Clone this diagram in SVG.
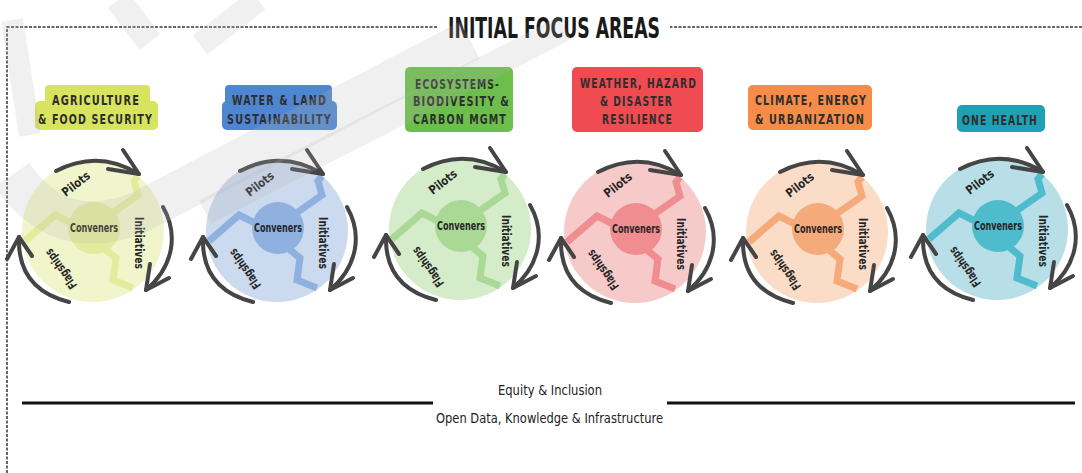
<svg xmlns="http://www.w3.org/2000/svg" xmlns:xlink="http://www.w3.org/1999/xlink" width="1082" height="473" viewBox="0 0 1082 473">
<style>
.frame{fill:none;stroke:#666;stroke-width:2;stroke-dasharray:3 1.5}
.title{font-family:"DejaVu Sans Condensed","DejaVu Sans","Liberation Sans",sans-serif;font-stretch:condensed;font-weight:bold;font-size:29px;fill:#1a1a1a}
.lbl{font-family:"DejaVu Sans Condensed","DejaVu Sans","Liberation Sans",sans-serif;font-stretch:condensed;font-weight:bold;font-size:14px;letter-spacing:1.5px;fill:#2e2e2e;text-anchor:middle}
.ct{font-family:"DejaVu Sans Condensed","DejaVu Sans","Liberation Sans",sans-serif;font-stretch:condensed;font-weight:bold;font-size:12px;fill:#262626;text-anchor:middle}
.bt{font-family:"DejaVu Sans Condensed","DejaVu Sans","Liberation Sans",sans-serif;font-stretch:condensed;font-size:14px;fill:#222;text-anchor:middle}
.arr{fill:none;stroke:#454545;stroke-width:4;stroke-linecap:round;stroke-linejoin:round}
.spk{fill:none;stroke:currentColor;stroke-width:7;stroke-linejoin:miter}
.wm{fill:none;stroke:#b5b5b5;stroke-opacity:0.2;stroke-linecap:butt}
.rule{stroke:#111;stroke-width:3}
</style>
<defs>
<g id="spokes">
<path class="spk" d="M18,-17 L45,-36 L41,-50 L45,-55"/>
<path class="spk" d="M-22,-8 L-38,-16 L-68,10"/>
<path class="spk" d="M12,18 L23,27 L20,49 L40,57"/>
</g>
<g id="arrows">
<path class="arr" d="M-37,-60 Q5,-82 46,-57"/>
<path class="arr" d="M15,-62 L46,-57 L30,-81"/>
<path class="arr" d="M70,-24 C86,4 80,36 53,59"/>
<path class="arr" d="M76,47 L53,59 L57,33"/>
<path class="arr" d="M-24,71 Q-76,58 -74,6"/>
<path class="arr" d="M-61,25 L-74,6 L-86,28"/>
</g>
</defs>
<rect width="1082" height="473" fill="#fff"/>

<g id="frame">
<path class="frame" d="M1082,27 L670,27"/>
<path class="frame" d="M437,27 L7,27 L7,473"/>
<text class="title" x="448" y="38" textLength="212" lengthAdjust="spacingAndGlyphs">INITIAL FOCUS AREAS</text>
</g>

<g id="node-agriculture">
<rect x="45" y="85" width="105" height="23" rx="4" fill="#d8e35e"/>
<rect x="35" y="101" width="123" height="29" rx="5" fill="#d8e35e"/>
<text class="lbl" x="96" y="105" textLength="88" lengthAdjust="spacingAndGlyphs">AGRICULTURE</text>
<text class="lbl" x="95.5" y="123.5" textLength="115" lengthAdjust="spacingAndGlyphs">&amp; FOOD SECURITY</text>
<g transform="translate(93,231)" style="color:#e3ec9c">
<circle r="71" fill="#f0f5cb"/>
<circle cx="1" cy="-3" r="26" fill="#e3ec9c"/>
<use href="#spokes"/>
<text class="ct" x="1" y="1" textLength="48" lengthAdjust="spacingAndGlyphs">Conveners</text>
<text class="ct" transform="translate(-17,-47) rotate(-38)" y="4" textLength="32" lengthAdjust="spacingAndGlyphs">Pilots</text>
<text class="ct" transform="translate(46,12) rotate(90)" y="4" textLength="52" lengthAdjust="spacingAndGlyphs">Initiatives</text>
<text class="ct" transform="translate(-32,38) rotate(235)" y="4" textLength="46" lengthAdjust="spacingAndGlyphs">Flagships</text>
</g>
</g>

<g id="node-water">
<rect x="225" y="85" width="107" height="23" rx="4" fill="#4f86d1"/>
<rect x="222" y="101" width="115" height="29" rx="5" fill="#4f86d1"/>
<text class="lbl" x="279.5" y="105" textLength="95" lengthAdjust="spacingAndGlyphs">WATER &amp; LAND</text>
<text class="lbl" x="279.5" y="123.5" textLength="105" lengthAdjust="spacingAndGlyphs">SUSTAINABILITY</text>
<g transform="translate(277,231)" style="color:#90b1e0">
<circle r="71" fill="#cbdaee"/>
<circle cx="1" cy="-3" r="26" fill="#90b1e0"/>
<use href="#spokes"/>
<text class="ct" x="1" y="1" textLength="48" lengthAdjust="spacingAndGlyphs">Conveners</text>
<text class="ct" transform="translate(-17,-47) rotate(-38)" y="4" textLength="32" lengthAdjust="spacingAndGlyphs">Pilots</text>
<text class="ct" transform="translate(46,12) rotate(90)" y="4" textLength="52" lengthAdjust="spacingAndGlyphs">Initiatives</text>
<text class="ct" transform="translate(-32,38) rotate(235)" y="4" textLength="46" lengthAdjust="spacingAndGlyphs">Flagships</text>
</g>
</g>

<g id="node-ecosystems">
<rect x="405" y="67" width="108" height="65" rx="5" fill="#6cbf4a"/>
<text class="lbl" x="457.5" y="89" textLength="85" lengthAdjust="spacingAndGlyphs">ECOSYSTEMS-</text>
<text class="lbl" x="461.5" y="106" textLength="97" lengthAdjust="spacingAndGlyphs">BIODIVESITY &amp;</text>
<text class="lbl" x="460" y="124" textLength="94" lengthAdjust="spacingAndGlyphs">CARBON MGMT</text>
<g transform="translate(460,229)" style="color:#a9d995">
<circle r="71" fill="#d4ecc9"/>
<circle cx="1" cy="-3" r="26" fill="#a9d995"/>
<use href="#spokes"/>
<text class="ct" x="1" y="1" textLength="48" lengthAdjust="spacingAndGlyphs">Conveners</text>
<text class="ct" transform="translate(-17,-47) rotate(-38)" y="4" textLength="32" lengthAdjust="spacingAndGlyphs">Pilots</text>
<text class="ct" transform="translate(46,12) rotate(90)" y="4" textLength="52" lengthAdjust="spacingAndGlyphs">Initiatives</text>
<text class="ct" transform="translate(-32,38) rotate(235)" y="4" textLength="46" lengthAdjust="spacingAndGlyphs">Flagships</text>
</g>
</g>

<g id="node-weather">
<rect x="572" y="67" width="131" height="65" rx="5" fill="#ef4b50"/>
<text class="lbl" x="638.5" y="87.5" textLength="117" lengthAdjust="spacingAndGlyphs">WEATHER, HAZARD</text>
<text class="lbl" x="636.5" y="105.5" textLength="73" lengthAdjust="spacingAndGlyphs">&amp; DISASTER</text>
<text class="lbl" x="637.5" y="124" textLength="71" lengthAdjust="spacingAndGlyphs">RESILIENCE</text>
<g transform="translate(635,232)" style="color:#ef8d90">
<circle r="71" fill="#f7caca"/>
<circle cx="1" cy="-3" r="26" fill="#ef8d90"/>
<use href="#spokes"/>
<text class="ct" x="1" y="1" textLength="48" lengthAdjust="spacingAndGlyphs">Conveners</text>
<text class="ct" transform="translate(-17,-47) rotate(-38)" y="4" textLength="32" lengthAdjust="spacingAndGlyphs">Pilots</text>
<text class="ct" transform="translate(46,12) rotate(90)" y="4" textLength="52" lengthAdjust="spacingAndGlyphs">Initiatives</text>
<text class="ct" transform="translate(-32,38) rotate(235)" y="4" textLength="46" lengthAdjust="spacingAndGlyphs">Flagships</text>
</g>
</g>

<g id="node-climate">
<rect x="748" y="85" width="124" height="45" rx="5" fill="#f68c48"/>
<text class="lbl" x="811" y="104.5" textLength="112" lengthAdjust="spacingAndGlyphs">CLIMATE, ENERGY</text>
<text class="lbl" x="810" y="123.5" textLength="110" lengthAdjust="spacingAndGlyphs">&amp; URBANIZATION</text>
<g transform="translate(817,232)" style="color:#f5aa7b">
<circle r="71" fill="#fbdcc7"/>
<circle cx="1" cy="-3" r="26" fill="#f5aa7b"/>
<use href="#spokes"/>
<text class="ct" x="1" y="1" textLength="48" lengthAdjust="spacingAndGlyphs">Conveners</text>
<text class="ct" transform="translate(-17,-47) rotate(-38)" y="4" textLength="32" lengthAdjust="spacingAndGlyphs">Pilots</text>
<text class="ct" transform="translate(46,12) rotate(90)" y="4" textLength="52" lengthAdjust="spacingAndGlyphs">Initiatives</text>
<text class="ct" transform="translate(-32,38) rotate(235)" y="4" textLength="46" lengthAdjust="spacingAndGlyphs">Flagships</text>
</g>
</g>

<g id="node-onehealth">
<rect x="957" y="105" width="88" height="27" rx="5" fill="#1ea0b5"/>
<text class="lbl" x="1000" y="124.5" textLength="76" lengthAdjust="spacingAndGlyphs">ONE HEALTH</text>
<g transform="translate(997,229)" style="color:#4fbccd">
<circle r="71" fill="#b8dfe7"/>
<circle cx="1" cy="-3" r="26" fill="#4fbccd"/>
<use href="#spokes"/>
<text class="ct" x="1" y="1" textLength="48" lengthAdjust="spacingAndGlyphs">Conveners</text>
<text class="ct" transform="translate(-17,-47) rotate(-38)" y="4" textLength="32" lengthAdjust="spacingAndGlyphs">Pilots</text>
<text class="ct" transform="translate(46,12) rotate(90)" y="4" textLength="52" lengthAdjust="spacingAndGlyphs">Initiatives</text>
<text class="ct" transform="translate(-32,38) rotate(235)" y="4" textLength="46" lengthAdjust="spacingAndGlyphs">Flagships</text>
</g>
</g>

<g id="connectors">
<use href="#arrows" x="93" y="231"/>
<use href="#arrows" x="277" y="231"/>
<use href="#arrows" x="460" y="229"/>
<use href="#arrows" x="635" y="232"/>
<use href="#arrows" x="817" y="232"/>
<use href="#arrows" x="997" y="229"/>
</g>

<g id="foundation">
<line class="rule" x1="22" y1="403" x2="433" y2="403"/>
<line class="rule" x1="667" y1="403" x2="1075" y2="403"/>
<text class="bt" x="550" y="395" textLength="104" lengthAdjust="spacingAndGlyphs">Equity &amp; Inclusion</text>
<text class="bt" x="549.5" y="423" textLength="227" lengthAdjust="spacingAndGlyphs">Open Data, Knowledge &amp; Infrastructure</text>
</g>

<g id="watermark">
<path class="wm" stroke-width="42" d="M12,175 Q60,245 140,212 L470,40"/>
<path class="wm" stroke-width="26" d="M205,212 L565,28"/>
<path class="wm" stroke-width="26" d="M118,0 L150,42"/>
<path class="wm" stroke-width="24" d="M258,0 L200,45"/>
<path class="wm" stroke-width="22" d="M12,20 L30,135"/>
</g>
</svg>
